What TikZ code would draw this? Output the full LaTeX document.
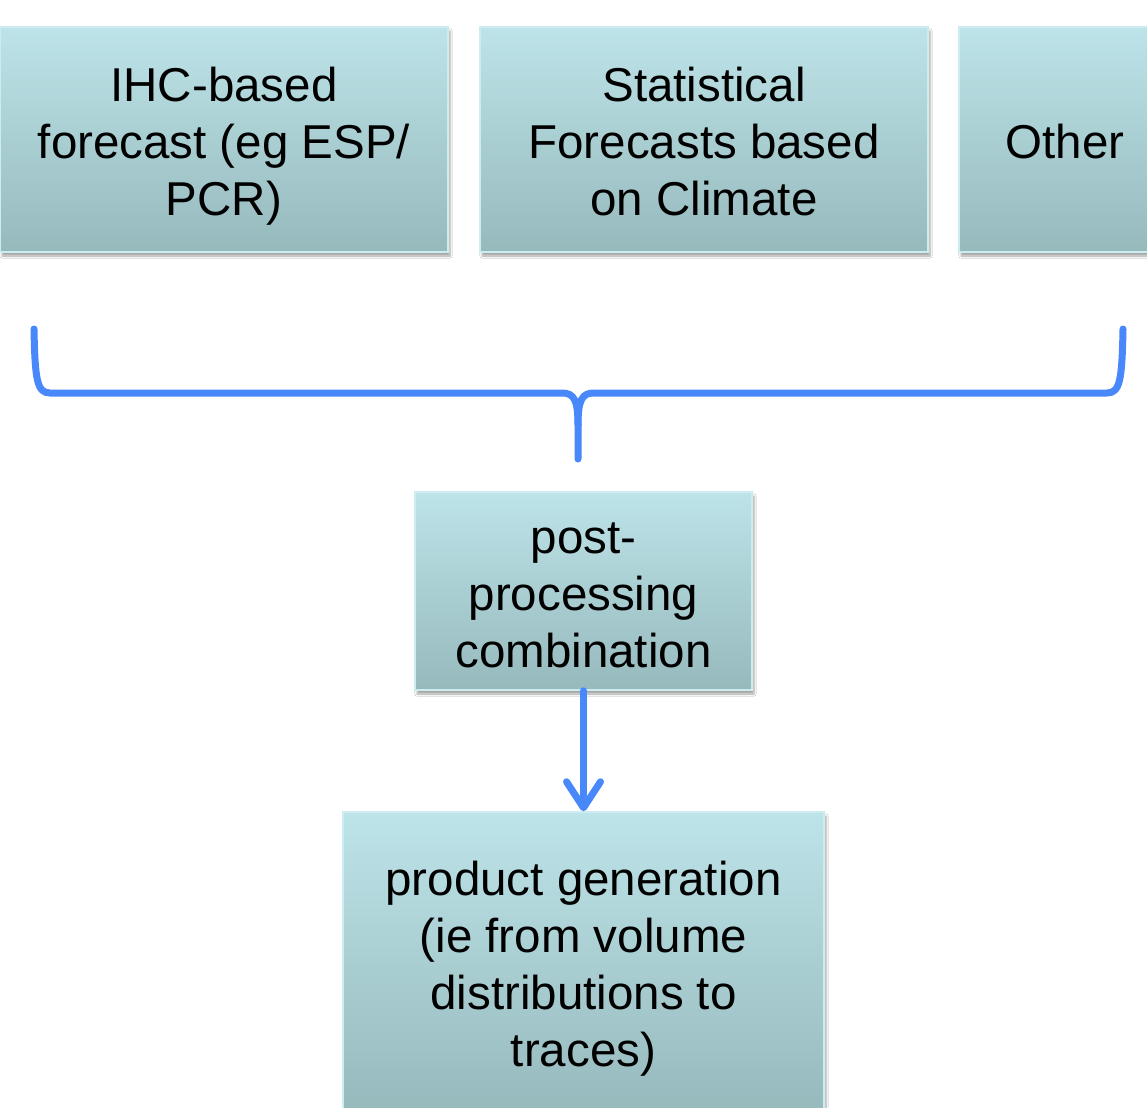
\documentclass[tikz,border=0pt]{standalone}
\usepackage{fontspec}
\setmainfont{Liberation Sans}
\usetikzlibrary{shadows,shadows.blur,arrows.meta}
\definecolor{boxtop}{RGB}{189,228,233}
\definecolor{boxbot}{RGB}{150,185,188}
\definecolor{boxedge}{RGB}{205,236,240}
\definecolor{braceblue}{RGB}{72,136,250}
\newcommand{\boxlines}[1]{\raisebox{-8pt}[\height][\depth]{\begin{tabular}{@{}c@{}}#1\end{tabular}}}
\tikzset{
  box/.style={rectangle, shading=axis, top color=boxtop, bottom color=boxbot,
    draw=boxedge, line width=1.5pt, inner sep=0pt,
    font=\fontsize{47.5}{57}\selectfont,
    blur shadow={shadow xshift=2pt, shadow yshift=-4pt, shadow blur steps=6, shadow opacity=35}},
  bracestyle/.style={draw=braceblue, line width=7pt, line cap=round, line join=round},
  flow/.style={draw=braceblue, line width=7pt, line cap=round,
    -{Straight Barb[round, length=26pt, width=34pt, line width=7pt]}}
}
\begin{document}
\begin{tikzpicture}[x=1pt,y=-1pt]
\useasboundingbox (0,0) rectangle (1147,1107);
\clip (0,0) rectangle (1147,1107);
\fill[white] (0,0) rectangle (1147,1107);

\node[box, minimum width=448pt, minimum height=225pt] (ihc) at (224,139.5)
  {\boxlines{IHC-based\\forecast (eg ESP/\\PCR)}};
\node[box, minimum width=448pt, minimum height=225pt] (stat) at (704,139.5)
  {\boxlines{Statistical\\Forecasts based\\on Climate}};
\node[box, minimum width=212pt, minimum height=225pt] (other) at (1065,139.5)
  {\boxlines{Other}};

\coordinate (bl) at (34,329);
\coordinate (br) at (1123,329);
\coordinate (bt) at (578,459);

\draw[bracestyle] (bl) .. controls (35,380) and (37,393) .. (50,393) -- (562,393)
  .. controls (574,393) and (578,400) .. (578,425) -- (bt);
\draw[bracestyle] (br) .. controls (1122,380) and (1120,393) .. (1107,393) -- (594,393)
  .. controls (582,393) and (578,400) .. (578,425);

\node[box, minimum width=337pt, minimum height=198pt] (post) at (583.5,591)
  {\boxlines{post-\\processing\\combination}};
\node[box, minimum width=481pt, minimum height=300pt] (prod) at (583.5,962)
  {\boxlines{product generation\\(ie from volume\\distributions to\\traces)}};

\draw[flow] (post.south) -- (prod.north);
\end{tikzpicture}
\end{document}
